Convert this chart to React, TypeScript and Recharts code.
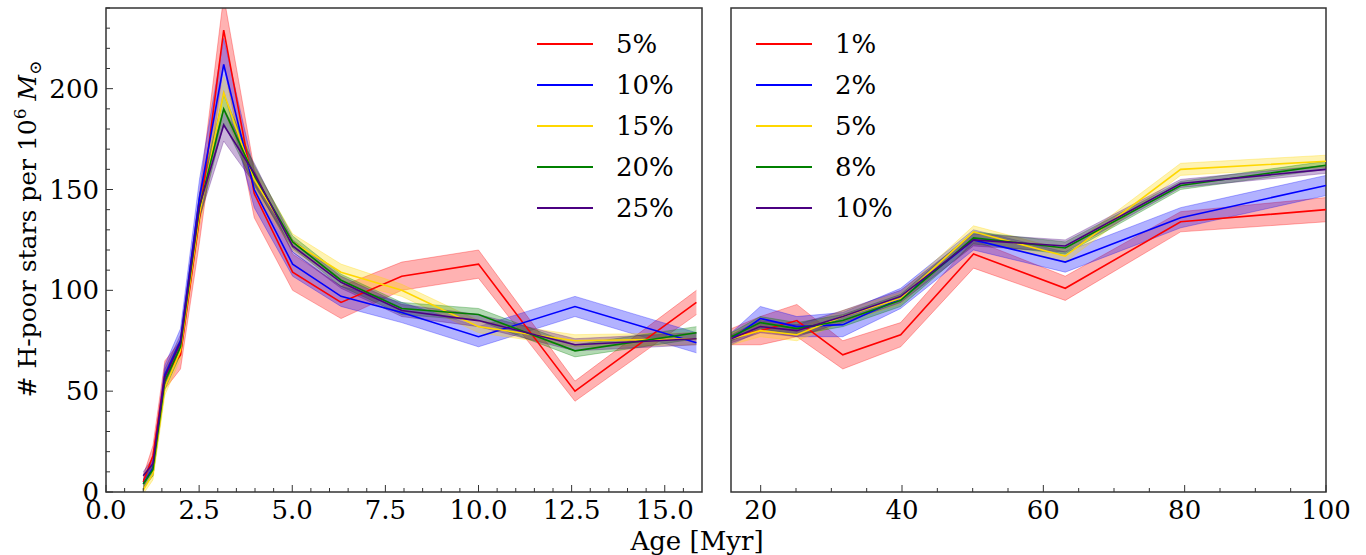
import React from "react";
import { ComposedChart, Area, Line, XAxis, YAxis, ReferenceArea } from "recharts";

// ages of the sampled populations [Myr]
const AGES_LEFT = [1.0, 1.26, 1.58, 2.0, 2.51, 3.16, 3.98, 5.01, 6.31, 7.94, 10.0, 12.59, 15.85];
const AGES_RIGHT = [15.85, 19.95, 25.12, 31.62, 39.81, 50.12, 63.1, 79.43, 100.0];

const LEFT_LABELS = ["5%", "10%", "15%", "20%", "25%"];
const RIGHT_LABELS = ["1%", "2%", "5%", "8%", "10%"];
const COLORS = ["#ff0000", "#0000ff", "#ffd700", "#008000", "#4b0082"];

// left panel: counts and half-width of the shaded band
const L_5 = [5, 18, 58, 68, 136, 229, 148, 109, 94, 107, 113, 50, 94];
const L_5_ERR = [3, 5, 7, 7, 12, 17, 12, 9, 8, 7, 7, 5, 6];
const L_10 = [4, 12, 58, 75, 146, 212, 150, 113, 97, 89, 77, 92, 74];
const L_10_ERR = [2, 4, 5, 6, 9, 13, 9, 6, 5, 5, 5, 5, 5];
const L_15 = [1, 9, 52, 70, 138, 198, 155, 124, 109, 100, 82, 75, 76];
const L_15_ERR = [2, 3, 4, 4, 6, 8, 6, 4, 4, 3, 3, 3, 3];
const L_20 = [4, 11, 55, 72, 141, 190, 157, 124, 105, 91, 88, 70, 79];
const L_20_ERR = [2, 3, 4, 4, 6, 7, 5, 3, 3, 3, 3, 3, 3];
const L_25 = [8, 14, 57, 74, 142, 182, 158, 122, 104, 90, 85, 73, 76];
const L_25_ERR = [2, 3, 4, 4, 6, 8, 5, 3, 3, 3, 3, 3, 3];

// right panel
const R_1 = [77, 80, 85, 68, 78, 118, 101, 134, 140];
const R_1_ERR = [4, 7, 8, 7, 6, 7, 6, 5, 6];
const R_2 = [76, 86, 82, 83, 96, 125, 114, 136, 152];
const R_2_ERR = [3, 6, 5, 6, 5, 5, 5, 5, 5];
const R_5 = [76, 80, 78, 87, 96, 129, 117, 160, 164];
const R_5_ERR = [3, 3, 3, 3, 3, 3, 3, 3, 3];
const R_8 = [77, 84, 81, 85, 95, 126, 121, 152, 162];
const R_8_ERR = [2, 3, 3, 3, 3, 3, 3, 2, 2];
const R_10 = [76, 82, 80, 87, 97, 125, 122, 153, 160];
const R_10_ERR = [2, 3, 3, 3, 3, 3, 3, 2, 2];

const LEFT_X_MAJOR = [0, 2.5, 5, 7.5, 10, 12.5, 15];
const LEFT_X_TICKS = [0, 0.5, 1, 1.5, 2, 2.5, 3, 3.5, 4, 4.5, 5, 5.5, 6, 6.5, 7, 7.5, 8, 8.5, 9, 9.5, 10, 10.5, 11, 11.5, 12, 12.5, 13, 13.5, 14, 14.5, 15, 15.5];
const RIGHT_X_MAJOR = [20, 40, 60, 80, 100];
const RIGHT_X_TICKS = [20, 25, 30, 35, 40, 45, 50, 55, 60, 65, 70, 75, 80, 85, 90, 95, 100];
const Y_MAJOR = [0, 50, 100, 150, 200];
const Y_TICKS = [0, 10, 20, 30, 40, 50, 60, 70, 80, 90, 100, 110, 120, 130, 140, 150, 160, 170, 180, 190, 200, 210, 220, 230, 240];

const FONT = "'DejaVu Serif', serif";
const FS = 26;

const leftSeries = [
  { values: L_5, errs: L_5_ERR },
  { values: L_10, errs: L_10_ERR },
  { values: L_15, errs: L_15_ERR },
  { values: L_20, errs: L_20_ERR },
  { values: L_25, errs: L_25_ERR },
];
const rightSeries = [
  { values: R_1, errs: R_1_ERR },
  { values: R_2, errs: R_2_ERR },
  { values: R_5, errs: R_5_ERR },
  { values: R_8, errs: R_8_ERR },
  { values: R_10, errs: R_10_ERR },
];

function buildRows(ages: number[], series: { values: number[]; errs: number[] }[]) {
  return ages.map((age, i) => {
    const row: any = { age };
    series.forEach((s, k) => {
      row[`v${k}`] = s.values[i];
      row[`b${k}`] = [s.values[i] - s.errs[i], s.values[i] + s.errs[i]];
    });
    return row;
  });
}

const leftRows = buildRows(AGES_LEFT, leftSeries);
const rightRows = buildRows(AGES_RIGHT, rightSeries);

function XTick(props: any) {
  const { x, y, payload, majors, fmt } = props;
  const v = payload.value;
  const major = majors.includes(v);
  return (
    <g>
      <line x1={x} x2={x} y1={y} y2={y - (major ? 7 : 4)} stroke="#333" strokeWidth={1} />
      {major && (
        <text x={x} y={y + 27} textAnchor="middle" fontSize={FS} fontFamily={FONT} fill="#000">
          {fmt(v)}
        </text>
      )}
    </g>
  );
}

function YTick(props: any) {
  const { x, y, payload } = props;
  const v = payload.value;
  const major = Y_MAJOR.includes(v);
  return (
    <g>
      <line x1={x} x2={x + (major ? 7 : 4)} y1={y} y2={y} stroke="#333" strokeWidth={1} />
      {major && (
        <text x={x - 7} y={y + 9} textAnchor="end" fontSize={FS} fontFamily={FONT} fill="#000">
          {v}
        </text>
      )}
    </g>
  );
}

function Panel({
  rows,
  domain,
  ticks,
  majors,
  fmt,
  width,
  margin,
  showY,
}: {
  rows: any[];
  domain: [number, number];
  ticks: number[];
  majors: number[];
  fmt: (v: number) => string;
  width: number;
  margin: { top: number; right: number; left: number; bottom: number };
  showY: boolean;
}) {
  return (
    <ComposedChart width={width} height={555} data={rows} margin={margin}>
      <XAxis
        dataKey="age"
        type="number"
        domain={domain}
        allowDataOverflow
        ticks={ticks}
        interval={0}
        height={63}
        tickSize={0}
        tickMargin={0}
        axisLine={false}
        tick={(p: any) => <XTick {...p} majors={majors} fmt={fmt} />}
      />
      {showY ? (
        <YAxis
          type="number"
          domain={[0, 240]}
          allowDataOverflow
          ticks={Y_TICKS}
          interval={0}
          width={106}
          tickSize={0}
          tickMargin={0}
          axisLine={false}
          tick={(p: any) => <YTick {...p} />}
        />
      ) : (
        <YAxis type="number" domain={[0, 240]} allowDataOverflow hide />
      )}
      {COLORS.map((c, k) => [
        <Area
          key={`b${k}`}
          dataKey={`b${k}`}
          type="linear"
          fill={c}
          fillOpacity={0.3}
          stroke={c}
          strokeOpacity={0.3}
          strokeWidth={1}
          dot={false}
          activeDot={false}
          isAnimationActive={false}
        />,
        <Line
          key={`v${k}`}
          dataKey={`v${k}`}
          type="linear"
          stroke={c}
          strokeWidth={1.6}
          dot={false}
          activeDot={false}
          isAnimationActive={false}
        />,
      ])}
      <ReferenceArea
        x1={domain[0]}
        x2={domain[1]}
        y1={0}
        y2={240}
        fill="none"
        stroke="#333"
        strokeWidth={1.5}
        ifOverflow="visible"
      />
    </ComposedChart>
  );
}

function LegendBox({ labels, left, textX }: { labels: string[]; left: number; textX: number }) {
  const rows = [44, 85, 126, 167, 208];
  return (
    <g>
      {labels.map((l, i) => (
        <g key={l}>
          <line x1={left} x2={left + 56} y1={rows[i]} y2={rows[i]} stroke={COLORS[i]} strokeWidth={2} />
          <text x={textX} y={rows[i] + 9} fontSize={FS} fontFamily={FONT} fill="#000">
            {l}
          </text>
        </g>
      ))}
    </g>
  );
}

export default function App() {
  return (
    <div style={{ position: "absolute", left: 0, top: 0, width: 1366, height: 555, background: "#fff" }}>
      <div style={{ position: "absolute", left: 0, top: 0 }}>
        <Panel
          rows={leftRows}
          domain={[0, 16]}
          ticks={LEFT_X_TICKS}
          majors={LEFT_X_MAJOR}
          fmt={(v) => v.toFixed(1)}
          width={720}
          margin={{ top: 8, right: 18, left: 0, bottom: 0 }}
          showY
        />
      </div>
      <div style={{ position: "absolute", left: 720, top: 0 }}>
        <Panel
          rows={rightRows}
          domain={[15.8, 100]}
          ticks={RIGHT_X_TICKS}
          majors={RIGHT_X_MAJOR}
          fmt={(v) => String(v)}
          width={646}
          margin={{ top: 8, right: 40, left: 11, bottom: 0 }}
          showY={false}
        />
      </div>
      <svg
        width={1366}
        height={555}
        style={{ position: "absolute", left: 0, top: 0, pointerEvents: "none" }}
      >
        <LegendBox labels={LEFT_LABELS} left={537} textX={616} />
        <LegendBox labels={RIGHT_LABELS} left={756} textX={835} />
        <text x={697} y={550} textAnchor="middle" fontSize={FS} fontFamily={FONT} fill="#000">
          Age [Myr]
        </text>
        <text
          transform="translate(36, 229) rotate(-90)"
          textAnchor="middle"
          fontSize={25}
          fontFamily={FONT}
          fill="#000"
        >
          # H-poor stars per 10
          <tspan fontSize={17} dy={-10}>6</tspan>
          <tspan dy={10}> </tspan>
          <tspan fontStyle="italic">M</tspan>
          <tspan fontSize={17} dy={5}>⊙</tspan>
        </text>
      </svg>
    </div>
  );
}
